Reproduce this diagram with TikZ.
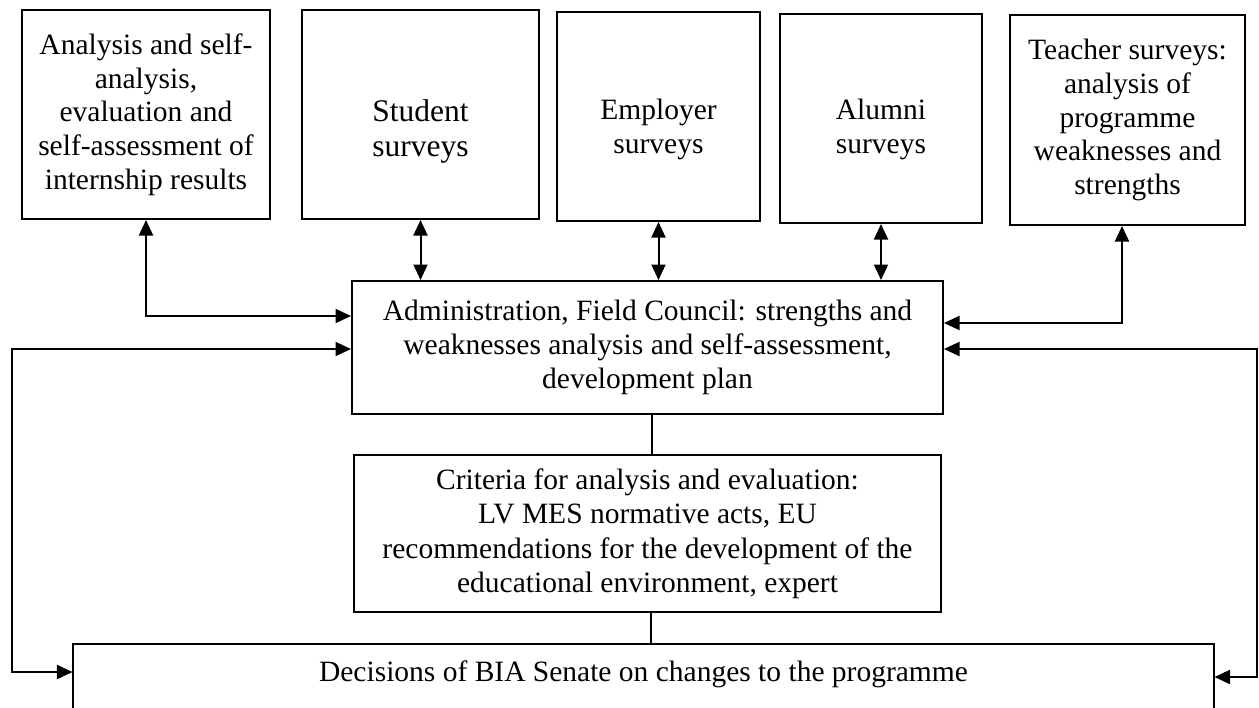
\documentclass[tikz,border=0pt]{standalone}
\usepackage{fontspec}
\setmainfont{Liberation Serif}
\usetikzlibrary{arrows.meta,positioning}

\begin{document}
\begin{tikzpicture}[
		x=0.4pt, y=-0.4pt,
		box/.style={draw, line width=0.8pt, align=center, inner sep=1pt, font=\fontsize{11.8pt}{13.5pt}\selectfont},
		link/.style={line width=0.8pt, {Triangle[length=6.2pt,width=5.6pt]}-{Triangle[length=6.2pt,width=5.6pt]}},
		plain/.style={line width=0.8pt}
	]
		\useasboundingbox (0,0) rectangle (1259,707);
		\clip (0,0) rectangle (1259,707);

		\node[box, minimum width=99.2pt, minimum height=83.6pt] (anal) at (146,114.5) {Analysis and self-\\analysis,\\evaluation and\\self-assessment of\\internship results};
		\node[box, minimum width=94.8pt, minimum height=83.6pt, font=\fontsize{12.6pt}{14pt}\selectfont] (stud) at (420.5,114.5) {\rule{0pt}{22pt}Student\\surveys};
		\node[box, minimum width=81.2pt, minimum height=83.6pt] (empl) at (658.5,116.5) {\rule{0pt}{18.5pt}Employer\\surveys};
		\node[box, minimum width=80.8pt, minimum height=83.6pt] (alum) at (881,118.5) {\rule{0pt}{17pt}Alumni\\surveys};
		\node[box, minimum width=94pt, minimum height=84pt] (teach) at (1127.5,120) {Teacher surveys:\\analysis of\\programme\\weaknesses and\\strengths};

		\node[box, minimum width=236.4pt, minimum height=53.2pt] (admin) at (647.5,347.5) {Administration, Field Council: strengths and\\weaknesses analysis and self-assessment,\\development plan};
		\node[box, minimum width=234.8pt, minimum height=62.8pt, font=\fontsize{11.8pt}{13.8pt}\selectfont] (crit) at (647.5,533.5) {Criteria for analysis and evaluation:\\LV MES normative acts, EU\\recommendations for the development of the\\educational environment, expert};
		\node[box, anchor=north, inner ysep=6.7pt, text depth=20pt, minimum width=456pt] (senate) at (643.5,642.5) {Decisions of BIA Senate on changes to the programme};

		\coordinate (lrail) at (12,0);
		\coordinate (rrail) at (1257,0);

		\draw[link] (anal.south) |- (admin.west |- 0,316);
		\draw[link] (stud.south) -- (stud.south |- admin.north);
		\draw[link] (empl.south) -- (empl.south |- admin.north);
		\draw[link] (alum.south) -- (alum.south |- admin.north);
		\draw[link] ([xshift=-2.2pt]teach.south) |- (admin.east |- 0,323);

		\draw[link] (admin.west |- 0,349) -| (lrail |- 0,672) -- (senate.west |- 0,672);
		\draw[link] (admin.east |- 0,349) -| (rrail |- 0,677) -- (senate.east |- 0,677);

		\draw[plain] (admin.south -| 652,0) -- (crit.north -| 652,0);
		\draw[plain] (crit.south -| 651,0) -- (senate.north -| 651,0);
	\end{tikzpicture}
\end{document}
